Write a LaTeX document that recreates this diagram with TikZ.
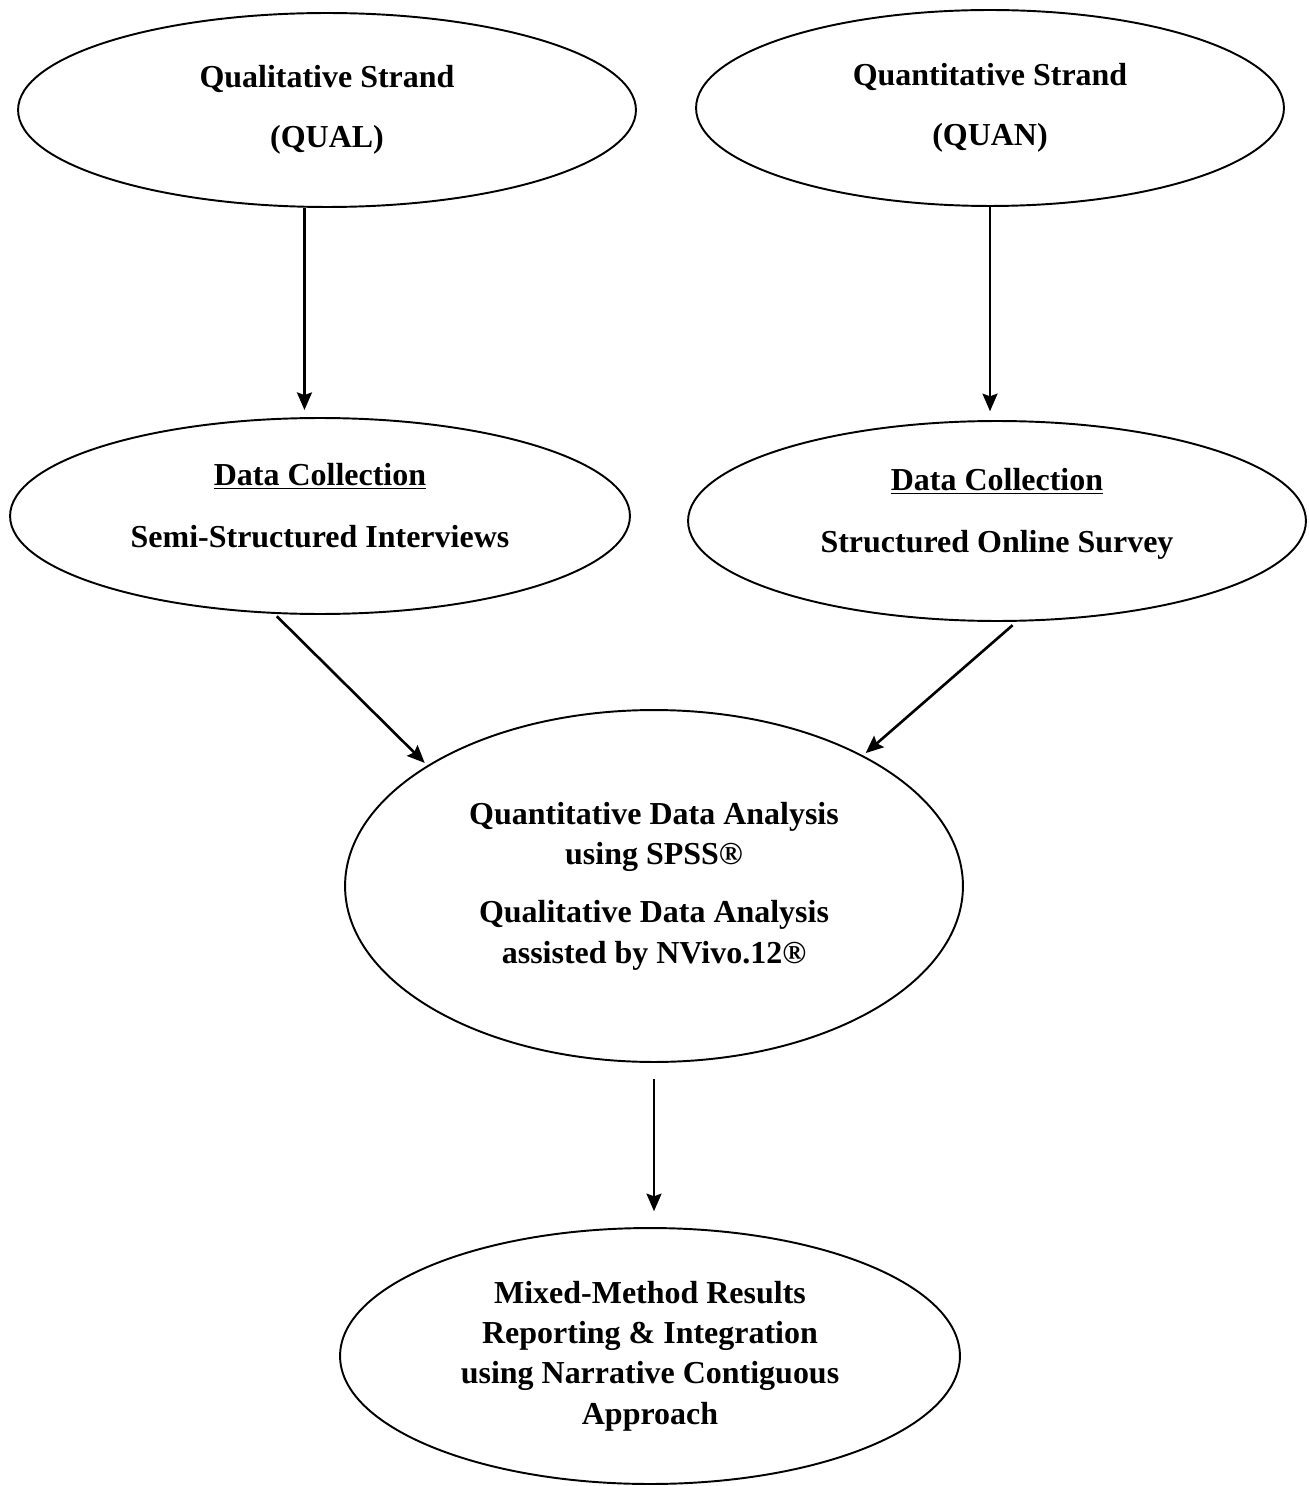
\documentclass[tikz,border=0pt]{standalone}
\usepackage{fontspec}
\setmainfont{Liberation Serif}
\usetikzlibrary{shapes.geometric}
\usetikzlibrary{arrows.meta}

\tikzset{
  phase/.style={ellipse,draw,line width=1.1pt,inner sep=0pt,align=center,
    font=\fontsize{18.2}{23}\selectfont\bfseries},
  flow/.style={line width=1.5pt,-{Stealth[length=10pt,width=8.5pt,inset=1.5pt]}}
}

\begin{document}
\begin{tikzpicture}[x=0.02cm,y=-0.02cm]
\useasboundingbox (0,0) rectangle (1308,1486);

% strands
\node[phase,minimum width=12.36cm,minimum height=3.88cm] (qual) at (327,110) {Qualitative Strand\\[11pt](QUAL)};
\node[phase,minimum width=11.76cm,minimum height=3.92cm] (quan) at (990,108) {Quantitative Strand\\[11pt](QUAN)};

% data collection
\node[phase,minimum width=12.4cm,minimum height=3.92cm,text depth=12pt] (colqual) at (320,516) {\underline{Data Collection}\\[12pt]Semi-Structured Interviews};
\node[phase,minimum width=12.36cm,minimum height=4.0cm,text depth=12pt] (colquan) at (997,521) {\underline{Data Collection}\\[12pt]Structured Online Survey};

% analysis and results
\node[phase,minimum width=12.36cm,minimum height=7.04cm] (anal) at (654,886) {Quantitative Data Analysis\\using SPSS®\\[10pt]Qualitative Data Analysis\\assisted by NVivo.12®};
\node[phase,minimum width=12.4cm,minimum height=5.12cm] (result) at (650,1356) {Mixed-Method Results\\Reporting \& Integration\\using Narrative Contiguous\\Approach};

\draw[flow,shorten >=4pt] (qual.257) -- (qual.257 |- colqual.north);
\draw[flow,shorten >=5pt] (quan.south) -- (quan.south |- colquan.north);
\draw[flow,shorten <=2pt,shorten >=2pt] (colqual.245) -- (anal.152);
\draw[flow,shorten <=3pt,shorten >=2pt] (colquan.281) -- (anal.32);
\draw[flow,shorten <=9pt,shorten >=9pt] (anal.south) -- (anal.south |- result.north);

\end{tikzpicture}
\end{document}
